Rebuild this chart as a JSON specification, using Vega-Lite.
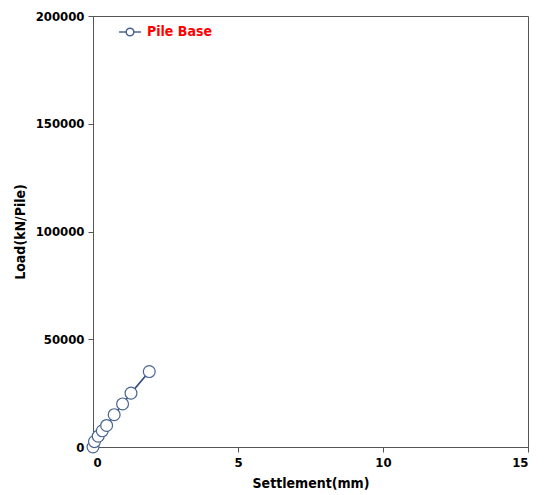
{
  "$schema": "https://vega.github.io/schema/vega-lite/v6.json",
  "autosize": "none",
  "width": 435,
  "height": 431,
  "padding": {"left": 93, "top": 16, "right": 16, "bottom": 48},
  "background": "white",
  "config": {
    "view": {"stroke": "#555555", "strokeWidth": 1},
    "font": "DejaVu Sans Condensed, DejaVu Sans",
    "axis": {
      "grid": false,
      "domainColor": "#555555",
      "tickColor": "#555555",
      "tickSize": 5,
      "labelFont": "DejaVu Sans Condensed, DejaVu Sans",
      "labelFontWeight": "bold",
      "labelFontSize": 13,
      "labelColor": "#000000",
      "titleFont": "DejaVu Sans Condensed, DejaVu Sans",
      "titleFontWeight": "bold",
      "titleFontSize": 14,
      "titleColor": "#000000"
    }
  },
  "data": {
    "values": [
      {"settlement": 0.0, "load": 0, "series": "Pile Base"},
      {"settlement": 0.05, "load": 2500, "series": "Pile Base"},
      {"settlement": 0.18, "load": 5000, "series": "Pile Base"},
      {"settlement": 0.32, "load": 7500, "series": "Pile Base"},
      {"settlement": 0.47, "load": 10000, "series": "Pile Base"},
      {"settlement": 0.73, "load": 15000, "series": "Pile Base"},
      {"settlement": 1.02, "load": 20000, "series": "Pile Base"},
      {"settlement": 1.31, "load": 25000, "series": "Pile Base"},
      {"settlement": 1.94, "load": 35000, "series": "Pile Base"}
    ]
  },
  "encoding": {
    "x": {
      "field": "settlement", "type": "quantitative",
      "scale": {"domain": [0, 15], "nice": false},
      "axis": {"values": [0, 5, 10, 15], "title": "Settlement(mm)", "titlePadding": 7, "labelPadding": 4}
    },
    "y": {
      "field": "load", "type": "quantitative",
      "scale": {"domain": [0, 200000], "nice": false},
      "axis": {"values": [0, 50000, 100000, 150000, 200000], "format": "d", "title": "Load(kN/Pile)", "titlePadding": 8, "labelPadding": 4}
    }
  },
  "layer": [
    {
      "mark": {"type": "line", "color": "#2f4d7e", "strokeWidth": 1.6, "clip": false},
      "encoding": {}
    },
    {
      "mark": {"type": "point", "filled": false, "fill": "white", "fillOpacity": 1, "strokeWidth": 1.2, "size": 140, "opacity": 1, "clip": false},
      "encoding": {
        "color": {
          "field": "series", "type": "nominal",
          "scale": {"range": ["#4a6591"]},
          "legend": {
            "title": null,
            "orient": "none",
            "legendX": 25,
            "legendY": 4,
            "symbolType": "M-1,0H-0.35M0.35,0H1M-0.35,0A0.35,0.35 0 1,0 0.35,0A0.35,0.35 0 1,0 -0.35,0",
            "symbolSize": 480,
            "symbolStrokeWidth": 1.5,
            "labelColor": "#ff0000",
            "labelFont": "DejaVu Sans Condensed, DejaVu Sans",
            "labelFontWeight": "bold",
            "labelFontSize": 14,
            "labelOffset": 5,
            "encode": {
              "symbols": {"update": {"fill": {"value": "white"}, "fillOpacity": {"value": 1}, "stroke": {"value": "#2f4d7e"}}}
            }
          }
        }
      }
    }
  ]
}
